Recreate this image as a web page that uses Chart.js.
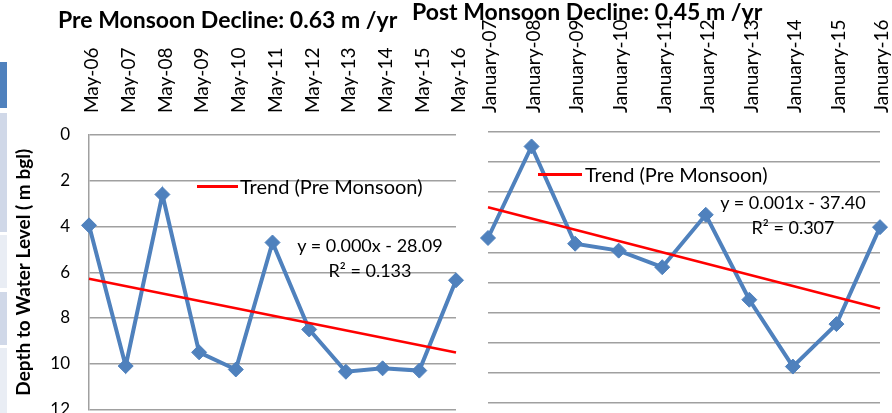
<!DOCTYPE html>
<html>
<head>
<meta charset="utf-8">
<script src="https://cdn.jsdelivr.net/npm/chart.js@4.4.1/dist/chart.umd.min.js"></script>
<style>
  body { margin: 0; background: #fff; font-family: Lato, sans-serif; }
  #wrap { position: relative; width: 892px; height: 413px; overflow: hidden; }
  .box { position: absolute; }
  .txt { position: absolute; white-space: nowrap; color: #000; }
  .title { font-weight: bold; font-size: 23px; }
  .leg { font-size: 20px; }
  .eq { font-size: 18px; text-align: center; line-height: 25px; }
  .swatch { position: absolute; height: 0; border-top: 3px solid #ff0000; }
  .strip { position: absolute; left: 0; width: 7px; }
</style>
</head>
<body>
<div id="wrap">
  <div class="strip" style="top:62px;height:46px;background:#4f81bd"></div>
  <div class="strip" style="top:113px;height:119px;background:#d0d8e8"></div>
  <div class="strip" style="top:235px;height:53px;background:#e9edf4"></div>
  <div class="strip" style="top:292px;height:53px;background:#d0d8e8"></div>
  <div class="strip" style="top:348px;height:65px;background:#e9edf4"></div>

  <!-- left canvas runs past the bottom edge so the last tick label is cut off -->
  <div class="box" style="left:0;top:0;width:470px;height:418px"><canvas id="preChart"></canvas></div>
  <div class="box" style="left:470px;top:0;width:422px;height:413px"><canvas id="postChart"></canvas></div>

  <div class="txt title" style="left:58px;top:5px">Pre Monsoon Decline: 0.63 m /yr</div>
  <div class="txt title" style="left:412px;top:-3px">Post Monsoon Decline: 0.45 m /yr</div>

  <div class="swatch" style="left:197px;top:185px;width:41px"></div>
  <div class="txt leg" style="left:240px;top:174px">Trend (Pre Monsoon)</div>
  <div class="txt eq" style="left:290px;top:233px;width:160px">y = 0.000x - 28.09<br>R² = 0.133</div>

  <div class="swatch" style="left:538px;top:173px;width:44px"></div>
  <div class="txt leg" style="left:585px;top:162px">Trend (Pre Monsoon)</div>
  <div class="txt eq" style="left:713px;top:190px;width:160px">y = 0.001x - 37.40<br>R² = 0.307</div>
</div>
<script>
// depth to water level (m bgl), pre monsoon (May) readings
const preLabels = ["May-06", "May-07", "May-08", "May-09", "May-10", "May-11", "May-12", "May-13", "May-14", "May-15", "May-16"];
const preDepth = [3.95, 10.1, 2.6, 9.5, 10.25, 4.7, 8.5, 10.35, 10.2, 10.3, 6.35];
const preTrend = [6.28, 9.51]; // trendline at first and last reading

// post monsoon (January) readings
const postLabels = ["January-07", "January-08", "January-09", "January-10", "January-11", "January-12", "January-13", "January-14", "January-15", "January-16"];
const postDepth = [3.52, 0.48, 3.71, 3.94, 4.49, 2.75, 5.57, 7.79, 6.38, 3.16];
const postTrend = [2.50, 5.86];

const blue = "#4f81bd";
const grey = "#a0a0a0";

Chart.defaults.font.family = "Lato";
Chart.defaults.color = "#000";

// two point trend spread over the category axis
function trendSeries(ends, n) {
	const arr = new Array(n).fill(null);
	arr[0] = ends[0];
	arr[n - 1] = ends[1];
	return arr;
}

// keep the plot box fixed: no extra room for the end labels
function noScalePadding(scale) {
	scale.paddingLeft = 0;
	scale.paddingRight = 0;
	scale.paddingTop = 0;
	scale.paddingBottom = 0;
}

function makeChart(id, labels, depth, trend, o) {
	return new Chart(document.getElementById(id), {
		type: "line",
		data: {
			labels: labels,
			datasets: [
				{
					label: "Trend (Pre Monsoon)",
					data: trendSeries(trend, labels.length),
					borderColor: "#ff0000",
					borderWidth: 2.5,
					pointRadius: 0,
					spanGaps: true,
					order: 0
				},
				{
					label: "Depth",
					data: depth,
					borderColor: blue,
					backgroundColor: blue,
					borderWidth: 4,
					pointStyle: "rectRot",
					pointRadius: 7.5,
					pointBorderWidth: 1,
					order: 1
				}
			]
		},
		options: {
			responsive: true,
			maintainAspectRatio: false,
			animation: false,
			layout: { padding: o.padding },
			plugins: { legend: { display: false }, tooltip: { enabled: false } },
			scales: {
				x: {
					position: "top",
					offset: false,
					grid: { display: false, drawTicks: false },
					border: { display: false },
					ticks: {
						minRotation: 90,
						maxRotation: 90,
						autoSkip: false,
						padding: o.xPad,
						labelOffset: o.xShift,
						font: { size: o.xFont }
					},
					afterFit: function (scale) {
						scale.height = o.xHeight;
						noScalePadding(scale);
					}
				},
				y: {
					reverse: true,
					min: o.yMin,
					max: o.yMax,
					grid: { color: grey, lineWidth: 1.5, drawTicks: false },
					border: { display: o.showY, color: grey, width: 1.5 },
					ticks: { display: o.showY, stepSize: o.step, padding: 19, font: { size: 17 } },
					title: {
						display: o.showY,
						text: "Depth to Water Level ( m bgl)",
						font: { size: 19, weight: "bold" },
						padding: { top: 12, bottom: 0 }
					},
					afterFit: function (scale) {
						scale.width = o.yWidth;
						noScalePadding(scale);
					}
				}
			}
		}
	});
}

makeChart("preChart", preLabels, preDepth, preTrend, {
	padding: { left: 0, right: 14, top: 0, bottom: 1 },
	xPad: 22, xHeight: 135, xFont: 19, xShift: 26, yWidth: 89,
	yMin: 0, yMax: 12, step: 2, showY: true
});

makeChart("postChart", postLabels, postDepth, postTrend, {
	padding: { left: 0, right: 12, top: 0, bottom: 10 },
	xPad: 19, xHeight: 132, xFont: 19, xShift: 25, yWidth: 18,
	yMin: 0, yMax: 9, step: 1, showY: false
});
</script>
</body>
</html>
